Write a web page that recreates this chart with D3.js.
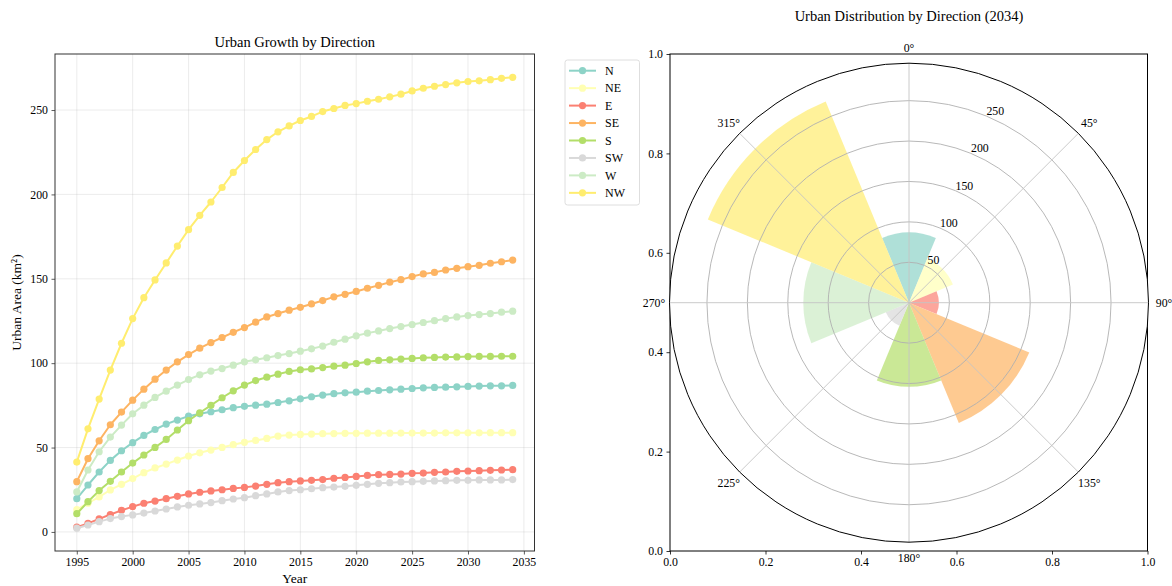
<!DOCTYPE html>
<html>
<head>
<meta charset="utf-8">
<script src="https://cdn.jsdelivr.net/npm/d3@7/dist/d3.min.js"></script>
<style>
html,body{margin:0;padding:0;background:#fff;}
svg{display:block;font-family:"Liberation Serif","Times New Roman",serif;}
</style>
</head>
<body>
<svg id="chart" width="1172" height="586"></svg>
<script>
// ---------------- data ----------------
const years = d3.range(1995, 2035);   // 1995..2034
const directions = ["N","NE","E","SE","S","SW","W","NW"];
const colors = ["#8dd3c7","#ffffb3","#fb8072","#fdb462","#b3de69","#d9d9d9","#ccebc5","#ffed6f"];
const angles = [0,45,90,135,180,225,270,315];

const seriesN  = [19.7,27.8,35.5,42.4,48.1,52.9,57.2,60.7,63.9,66.3,68.6,70.0,71.2,72.4,73.6,74.4,75.1,75.7,76.7,77.7,78.9,80.1,81.1,81.9,82.4,82.8,83.4,83.8,84.2,84.6,85.0,85.4,85.6,85.8,86.0,86.2,86.4,86.6,86.6,86.8];
const seriesNE = [13.2,17.0,20.7,24.9,28.2,31.6,35.1,37.9,40.2,42.6,45.0,46.9,48.5,50.1,51.7,53.1,54.2,55.4,56.8,57.4,57.8,58.0,58.2,58.3,58.4,58.4,58.5,58.5,58.5,58.6,58.6,58.6,58.6,58.7,58.7,58.7,58.7,58.8,58.8,58.8];
const seriesE  = [2.8,5.1,7.7,10.3,12.8,15.0,17.0,18.3,19.7,21.1,22.5,23.5,24.3,25.0,25.8,26.4,27.2,28.2,29.2,29.8,30.2,30.6,31.0,31.8,32.3,32.9,33.5,33.9,34.1,34.3,34.7,34.9,35.3,35.5,35.9,36.1,36.3,36.5,36.7,36.9];
const seriesSE = [29.8,43.4,54.0,63.5,71.0,78.1,84.6,90.5,95.9,100.8,105.1,108.9,112.2,115.2,118.3,121.1,124.3,127.4,129.4,131.4,133.1,135.1,137.1,139.3,140.8,142.5,144.4,146.1,148.0,149.5,151.3,152.9,153.8,155.2,156.2,157.2,158.0,159.2,160.1,161.1];
const seriesS  = [10.8,17.9,24.5,30.0,35.5,40.8,45.6,50.1,54.8,60.4,65.9,70.6,75.0,79.5,83.6,87.0,89.7,91.7,93.5,95.1,96.1,96.6,97.4,98.2,98.8,99.8,100.8,101.6,102.0,102.4,102.8,103.2,103.4,103.6,103.7,103.9,104.0,104.0,104.1,104.1];
const seriesSW = [2.2,4.1,6.1,7.9,9.1,10.1,11.2,12.4,13.6,14.8,15.8,16.6,17.4,18.5,19.5,20.3,21.5,22.5,23.7,24.5,25.0,25.6,26.2,26.6,27.0,27.6,28.2,28.8,29.2,29.6,29.8,30.0,30.2,30.4,30.6,30.6,30.8,30.8,30.8,31.0];
const seriesW  = [23.7,36.7,47.5,56.2,63.3,70.0,75.1,79.7,83.4,87.0,90.3,93.1,95.3,96.8,98.8,100.8,102.0,103.2,104.5,105.7,107.1,108.5,110.1,112.4,114.2,116.2,117.8,119.1,120.5,121.7,122.9,124.1,125.2,126.4,127.4,128.2,128.8,129.4,130.2,130.8];
const seriesNW = [41.4,61.1,78.7,95.9,111.8,126.4,138.8,149.3,159.4,169.4,179.1,187.6,195.5,204.1,213.0,220.1,226.6,232.5,237.1,240.6,243.8,246.2,249.1,250.9,252.7,253.8,255.2,256.4,257.8,259.4,261.3,262.9,264.1,265.1,266.1,266.9,267.3,268.0,268.8,269.4];
const allSeries = [seriesN,seriesNE,seriesE,seriesSE,seriesS,seriesSW,seriesW,seriesNW];

const xTicks = [1995,2000,2005,2010,2015,2020,2025,2030,2035];
const yTicks = [0,50,100,150,200,250];
const rTicks = [50,100,150,200,250];
const cartTicks = [0,0.2,0.4,0.6,0.8,1.0];

// ---------------- setup ----------------
const svg = d3.select("#chart");
const TICK_FS = "11.8px", LABEL_FS = "13.5px", TITLE_FS = "14.5px";

// ================= LEFT: line chart =================
const L = {left:55, right:534.5, top:54, bottom:551};
const x = d3.scaleLinear().domain([1993.05, 2035.95]).range([L.left, L.right]);
const y = d3.scaleLinear().domain([-11.3, 283.2]).range([L.bottom, L.top]);

const gL = svg.append("g");
gL.append("g").selectAll("line").data(xTicks).join("line")
  .attr("x1", d=>x(d)).attr("x2", d=>x(d)).attr("y1", L.top).attr("y2", L.bottom)
  .attr("stroke","#b0b0b0").attr("stroke-opacity",0.3).attr("stroke-width",0.8);
gL.append("g").selectAll("line").data(yTicks).join("line")
  .attr("y1", d=>y(d)).attr("y2", d=>y(d)).attr("x1", L.left).attr("x2", L.right)
  .attr("stroke","#b0b0b0").attr("stroke-opacity",0.3).attr("stroke-width",0.8);

const xAxis = d3.axisBottom(x).tickValues(xTicks).tickFormat(d3.format("d")).tickSizeOuter(0).tickSize(3.5).tickPadding(3.5);
const yAxis = d3.axisLeft(y).tickValues(yTicks).tickFormat(d3.format("d")).tickSizeOuter(0).tickSize(3.5).tickPadding(3.5);
const gx = gL.append("g").attr("transform",`translate(0,${L.bottom})`).call(xAxis);
const gy = gL.append("g").attr("transform",`translate(${L.left},0)`).call(yAxis);
[gx,gy].forEach(g=>{
  g.select(".domain").remove();
  g.selectAll("line").attr("stroke","#333").attr("stroke-width",0.8);
  g.selectAll("text").attr("fill","#000").style("font-size",TICK_FS).style("font-family","Liberation Serif");
});

const lineGen = d3.line().x((d,i)=>x(years[i])).y(d=>y(d));
const gLines = gL.append("g");
allSeries.forEach((s,k)=>{
  const g = gLines.append("g");
  g.append("path").datum(s).attr("d",lineGen).attr("fill","none")
    .attr("stroke",colors[k]).attr("stroke-width",2).attr("stroke-linejoin","round");
  g.selectAll("circle").data(s).join("circle")
    .attr("cx",(d,i)=>x(years[i])).attr("cy",d=>y(d)).attr("r",3.6).attr("fill",colors[k]);
});

gL.append("rect").attr("x",L.left).attr("y",L.top).attr("width",L.right-L.left).attr("height",L.bottom-L.top)
  .attr("fill","none").attr("stroke","#333").attr("stroke-width",1);

gL.append("text").attr("x",(L.left+L.right)/2).attr("y",L.top-7).attr("text-anchor","middle")
  .style("font-size",TITLE_FS).text("Urban Growth by Direction");
gL.append("text").attr("x",(L.left+L.right)/2).attr("y",583).attr("text-anchor","middle")
  .style("font-size",LABEL_FS).text("Year");
gL.append("text").attr("transform",`translate(21,${(L.top+L.bottom)/2}) rotate(-90)`).attr("text-anchor","middle")
  .style("font-size",LABEL_FS).text("Urban Area (km²)");

// legend
const lg = svg.append("g");
lg.append("rect").attr("x",565).attr("y",60).attr("width",74.5).attr("height",145).attr("rx",2.5)
  .attr("fill","#fff").attr("stroke","#d6d6d6").attr("stroke-width",0.8);
directions.forEach((d,k)=>{
  const yy = 70.7 + k*17.45;
  lg.append("line").attr("x1",569).attr("x2",596).attr("y1",yy).attr("y2",yy).attr("stroke",colors[k]).attr("stroke-width",2);
  lg.append("circle").attr("cx",582.5).attr("cy",yy).attr("r",3.6).attr("fill",colors[k]);
  lg.append("text").attr("x",605).attr("y",yy).attr("dy","0.35em").style("font-size","12px").text(d);
});

// ================= RIGHT: polar chart =================
const C = {left:670, right:1147.5, top:54, bottom:551};
const cx = 909, cy = 302.7, R = 239.5;
const rmax = d3.max(allSeries, s=>s[s.length-1]) * 1.1;
const r = d3.scaleLinear().domain([0, rmax]).range([0, R]);
const xs = d3.scaleLinear().domain([0,1]).range([C.left, C.right]);
const ys = d3.scaleLinear().domain([0,1]).range([C.bottom, C.top]);

const gR = svg.append("g");
const xsAxis = d3.axisBottom(xs).tickValues(cartTicks).tickFormat(d3.format(".1f")).tickSizeOuter(0).tickSize(3.5).tickPadding(3.5);
const ysAxis = d3.axisLeft(ys).tickValues(cartTicks).tickFormat(d3.format(".1f")).tickSizeOuter(0).tickSize(3.5).tickPadding(3.5);
const gxs = gR.append("g").attr("transform",`translate(0,${C.bottom})`).call(xsAxis);
const gys = gR.append("g").attr("transform",`translate(${C.left},0)`).call(ysAxis);
[gxs,gys].forEach(g=>{
  g.select(".domain").remove();
  g.selectAll("line").attr("stroke","#000").attr("stroke-width",0.8);
  g.selectAll("text").attr("fill","#000").style("font-size",TICK_FS).style("font-family","Liberation Serif");
});
gR.append("rect").attr("x",C.left).attr("y",C.top).attr("width",C.right-C.left).attr("height",C.bottom-C.top)
  .attr("fill","none").attr("stroke","#000").attr("stroke-width",1);

const gP = gR.append("g").attr("transform",`translate(${cx},${cy})`);
gP.append("circle").attr("r",R).attr("fill","#fff");
const arc = d3.arc().innerRadius(0);
const lastVals = allSeries.map(s=>s[s.length-1]);
gP.append("g").selectAll("path").data(lastVals).join("path")
  .attr("d",(v,k)=>{
    const t = angles[k]*Math.PI/180, w = Math.PI/8;
    return arc({outerRadius:r(v), startAngle:t-w, endAngle:t+w});
  })
  .attr("fill",(v,k)=>colors[k]).attr("fill-opacity",0.7);
gP.append("g").selectAll("circle").data(rTicks).join("circle")
  .attr("r",d=>r(d)).attr("fill","none").attr("stroke","#b0b0b0").attr("stroke-width",0.9);
gP.append("g").selectAll("line").data(angles).join("line")
  .attr("x1",0).attr("y1",0)
  .attr("x2",d=>R*Math.sin(d*Math.PI/180)).attr("y2",d=>-R*Math.cos(d*Math.PI/180))
  .attr("stroke","#c4c4c4").attr("stroke-width",0.9);
gP.append("circle").attr("r",R).attr("fill","none").attr("stroke","#000").attr("stroke-width",1);
const la = 22.5*Math.PI/180;
gP.append("g").selectAll("text").data(rTicks).join("text")
  .attr("x",d=>r(d)*Math.sin(la)+9).attr("y",d=>-r(d)*Math.cos(la)-5)
  .attr("text-anchor","middle").attr("dy","0.35em").style("font-size",TICK_FS).text(d=>d);
const labR = 255;
gP.append("g").selectAll("text").data(angles).join("text")
  .attr("x",d=>labR*Math.sin(d*Math.PI/180)).attr("y",d=>-labR*Math.cos(d*Math.PI/180))
  .attr("text-anchor","middle").attr("dy","0.35em").style("font-size",TICK_FS).text(d=>d+"°");

gR.append("text").attr("x",cx).attr("y",21).attr("text-anchor","middle")
  .style("font-size",TITLE_FS).text("Urban Distribution by Direction (2034)");
</script>
</body>
</html>
